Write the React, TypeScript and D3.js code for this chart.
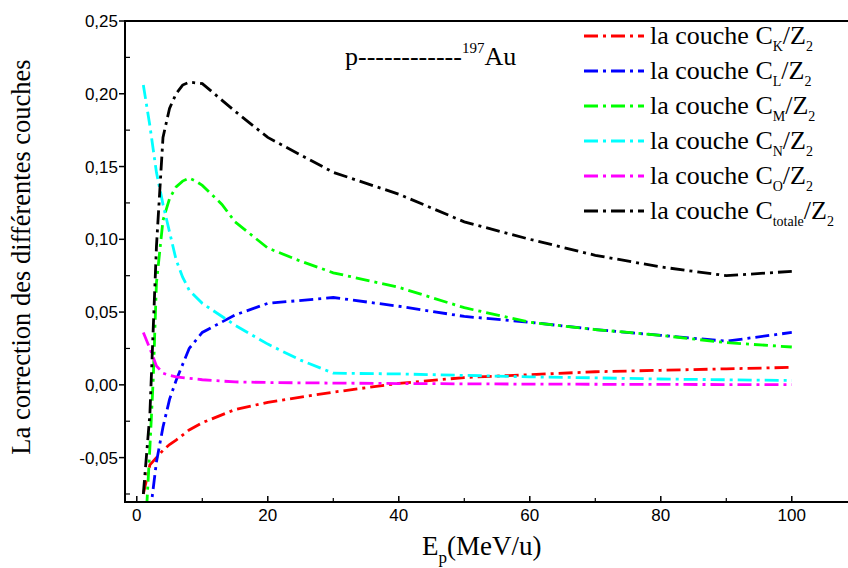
import React from "react";
import * as d3 from "d3";

// Energy (MeV/u) and correction per shell, normalised by Z2
const eK = [1, 2, 3, 4, 5, 6, 8, 10, 15, 20, 30, 40, 50, 60, 70, 80, 90, 100];
const cK = [-0.075, -0.055, -0.05, -0.045, -0.041, -0.038, -0.031, -0.026, -0.017, -0.012, -0.005, 0.001, 0.005, 0.007, 0.009, 0.010, 0.011, 0.012];

const eL = [2, 3, 4, 5, 6, 8, 10, 15, 20, 30, 40, 50, 60, 70, 80, 90, 100];
const cL = [-0.09, -0.053, -0.029, -0.01, 0.003, 0.025, 0.036, 0.048, 0.056, 0.06, 0.054, 0.047, 0.043, 0.038, 0.034, 0.030, 0.036];

const eM = [1.5, 2, 2.5, 3, 4, 5, 6, 7, 8, 9, 10, 13, 15, 20, 25, 30, 40, 50, 60, 70, 80, 90, 100];
const cM = [-0.085, -0.043, 0.003, 0.07, 0.113, 0.128, 0.136, 0.14, 0.142, 0.14, 0.137, 0.124, 0.112, 0.094, 0.085, 0.077, 0.067, 0.053, 0.043, 0.038, 0.034, 0.029, 0.026];

const eN = [1, 2, 3, 4, 5, 6, 7, 8, 10, 15, 20, 25, 30, 40, 50, 60, 70, 80, 90, 100];
const cN = [0.206, 0.178, 0.146, 0.124, 0.105, 0.086, 0.074, 0.065, 0.056, 0.041, 0.028, 0.017, 0.008, 0.0075, 0.0065, 0.0055, 0.0048, 0.004, 0.0035, 0.003];

const eO = [1, 2, 3, 4, 5, 6, 8, 10, 15, 20, 30, 40, 50, 60, 70, 80, 90, 100];
const cO = [0.036, 0.025, 0.013, 0.008, 0.0065, 0.0055, 0.0045, 0.0035, 0.002, 0.0016, 0.0012, 0.0009, 0.0007, 0.0005, 0.0004, 0.0003, 0.0002, 0.0001];

const eT = [1, 2, 3, 4, 5, 6, 7, 8, 10, 15, 20, 25, 30, 40, 50, 60, 70, 80, 90, 100];
const cT = [-0.075, -0.02, 0.095, 0.17, 0.19, 0.2, 0.206, 0.208, 0.207, 0.188, 0.17, 0.158, 0.146, 0.131, 0.112, 0.1, 0.089, 0.081, 0.075, 0.078];

const shellNames = ["K", "L", "M", "N", "O", "totale"];
const shellColors = ["#ff0000", "#0000ff", "#00ff00", "#00ffff", "#ff00ff", "#000000"];

const xTicks = [0, 20, 40, 60, 80, 100];
const xMinor = [10, 30, 50, 70, 90];
const yTicks = [-0.05, 0, 0.05, 0.1, 0.15, 0.2, 0.25];
const yMinor = [-0.075, -0.025, 0.025, 0.075, 0.125, 0.175, 0.225];

const W = 848;
const H = 568;
const L = 125;
const T = 21;
const B = 502;

export default function App() {
  const x = d3.scaleLinear().domain([-1.8, 110]).range([L, L + 111.8 * 6.55]);
  const y = d3.scaleLinear().domain([-0.0805, 0.25]).range([B, T]);

  const series = [
    [eK, cK],
    [eL, cL],
    [eM, cM],
    [eN, cN],
    [eO, cO],
    [eT, cT],
  ].map(([es, cs], i) => ({
    name: shellNames[i],
    color: shellColors[i],
    pts: es.map((e, j) => [e, cs[j]] as [number, number]),
  }));

  const line = d3
    .line<[number, number]>()
    .x((d) => x(d[0]))
    .y((d) => y(d[1]));

  const fmt = (v: number) => (v === 0 ? "0,00" : d3.format(".2f")(v).replace(".", ",").replace("−", "-"));

  const dash = "14,5,3,5";
  const serif = "'Liberation Serif', 'Times New Roman', serif";
  const sans = "'Liberation Sans', Arial, sans-serif";

  const legX = 584;
  const legY0 = 36;
  const legDy = 35;

  return (
    <svg width={W} height={H} style={{ position: "absolute", left: 0, top: 0, background: "#fff" }}>
      <defs>
        <clipPath id="plotArea">
          <rect x={L} y={T} width={W - L} height={B - T} />
        </clipPath>
      </defs>

      {/* curves */}
      <g clipPath="url(#plotArea)">
        {series.map((s) => (
          <path
            key={s.name}
            d={line(s.pts) || ""}
            fill="none"
            stroke={s.color}
            strokeWidth={2.8}
            strokeDasharray={dash}
          />
        ))}
      </g>

      {/* frame */}
      <line x1={L} x2={W} y1={T} y2={T} stroke="#000" strokeWidth={2} />
      <line x1={L} x2={W} y1={B} y2={B} stroke="#000" strokeWidth={2} />
      <line x1={L} x2={L} y1={T - 1} y2={B + 1} stroke="#000" strokeWidth={2} />

      {/* y axis */}
      {yTicks.map((v) => (
        <g key={"y" + v}>
          <line x1={L - 6} x2={L} y1={y(v)} y2={y(v)} stroke="#000" strokeWidth={1.5} />
          <text x={L - 7} y={y(v) + 6} textAnchor="end" fontFamily={sans} fontSize={17}>
            {fmt(v)}
          </text>
        </g>
      ))}
      {yMinor.map((v) => (
        <line key={"ym" + v} x1={L} x2={L + 5} y1={y(v)} y2={y(v)} stroke="#000" strokeWidth={1.2} />
      ))}

      {/* x axis */}
      {xTicks.map((v) => (
        <g key={"x" + v}>
          <line x1={x(v)} x2={x(v)} y1={B} y2={B - 6} stroke="#000" strokeWidth={1.5} />
          <text x={x(v)} y={B + 19} textAnchor="middle" fontFamily={sans} fontSize={17}>
            {v}
          </text>
        </g>
      ))}
      {xMinor.map((v) => (
        <line key={"xm" + v} x1={x(v)} x2={x(v)} y1={B} y2={B - 4} stroke="#000" strokeWidth={1.2} />
      ))}

      {/* axis titles */}
      <text x={422} y={555} fontFamily={serif} fontSize={27}>
        E<tspan fontSize={17} dy={8}>p</tspan>
        <tspan dy={-8}>(MeV/u)</tspan>
      </text>
      <text
        transform="translate(30,257) rotate(-90)"
        textAnchor="middle"
        fontFamily={serif}
        fontSize={26.5}
      >
        La correction des différentes couches
      </text>

      {/* reaction label */}
      <text x={345} y={65} fontFamily={serif} fontSize={26}>
        p------------
        <tspan fontSize={15} dy={-12}>197</tspan>
        <tspan dy={12}>Au</tspan>
      </text>

      {/* legend */}
      {series.map((s, i) => {
        const cy = legY0 + i * legDy;
        return (
          <g key={"leg" + s.name}>
            <line
              x1={legX}
              x2={legX + 60}
              y1={cy}
              y2={cy}
              stroke={s.color}
              strokeWidth={2.8}
              strokeDasharray={dash}
            />
            <text x={650} y={cy + 8} fontFamily={serif} fontSize={26}>
              la couche C
              <tspan fontSize={14} dy={7}>{s.name}</tspan>
              <tspan dy={-7}>/Z</tspan>
              <tspan fontSize={14} dy={7}>2</tspan>
            </text>
          </g>
        );
      })}
    </svg>
  );
}
